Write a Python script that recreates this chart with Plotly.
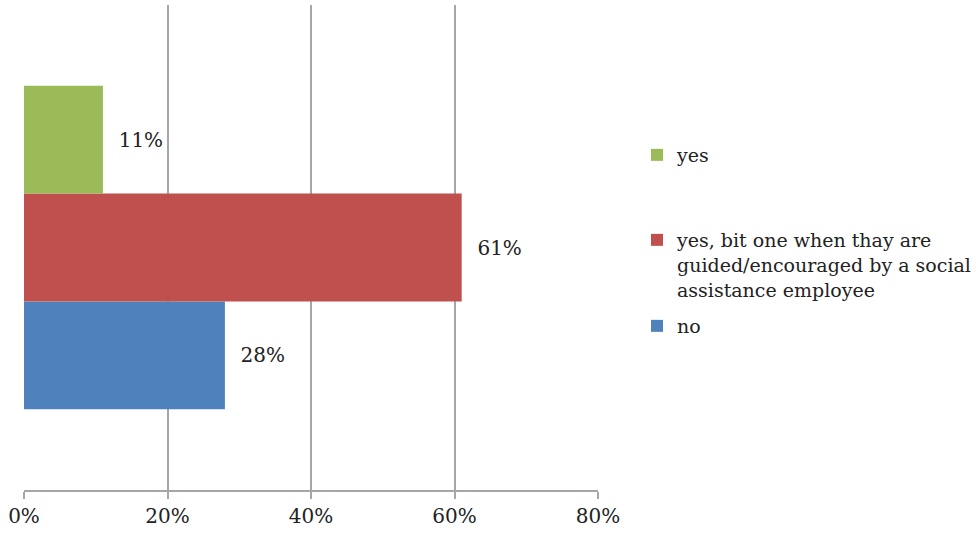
import plotly.graph_objects as go

category = ["Q"]
series_names = ["no",
                "yes, bit one when thay are<br>guided/encouraged by a social<br>assistance employee",
                "yes"]
series_values = [0.28, 0.61, 0.11]
series_colors = ["#4F81BD", "#C0504D", "#9BBB59"]
legend_ids = ["legend3", "legend2", "legend"]

FONT = "DejaVu Serif"
FS = 20
LFS = 19

fig = go.Figure()
for name, val, col, lg in zip(series_names, series_values, series_colors, legend_ids):
    fig.add_trace(go.Bar(
        y=category, x=[val], name=name, orientation="h",
        marker=dict(color=col, line=dict(width=0)),
        text=[val], texttemplate="\u00a0\u00a0%{x:.0%}",
        textposition="outside", constraintext="none", cliponaxis=False,
        textfont=dict(family=FONT, size=FS, color="#222222"),
        legend=lg, hoverinfo="skip",
    ))

leg_common = dict(xref="container", yref="container", xanchor="left", yanchor="top",
                  valign="top",
                  font=dict(family=FONT, size=LFS, color="#222222"),
                  bgcolor="rgba(0,0,0,0)", borderwidth=0, itemwidth=30)

fig.update_layout(
    width=976, height=533,
    font=dict(family=FONT, size=FS, color="#222222"),
    margin=dict(l=24, r=378, t=5, b=43),
    paper_bgcolor="white", plot_bgcolor="white",
    barmode="group", bargap=0.333, bargroupgap=0,
    showlegend=True,
    legend=dict(x=637/976, y=1-136/533, **leg_common),
    legend2=dict(x=637/976, y=1-221/533, **leg_common),
    legend3=dict(x=637/976, y=1-307/533, **leg_common),
    xaxis=dict(range=[0, 0.8], dtick=0.2, tick0=0, tickformat=".0%",
               showgrid=True, gridcolor="#A6A6A6", gridwidth=2,
               showline=True, linecolor="#A6A6A6", linewidth=2,
               ticks="outside", ticklen=7, tickwidth=2, tickcolor="#A6A6A6",
               tickfont=dict(family=FONT, size=FS, color="#222222"),
               zeroline=False, fixedrange=True),
    yaxis=dict(showticklabels=False, showgrid=False, zeroline=False,
               showline=False, ticks="", range=[-0.5, 0.5], fixedrange=True),
)

fig.write_html("out.html")
